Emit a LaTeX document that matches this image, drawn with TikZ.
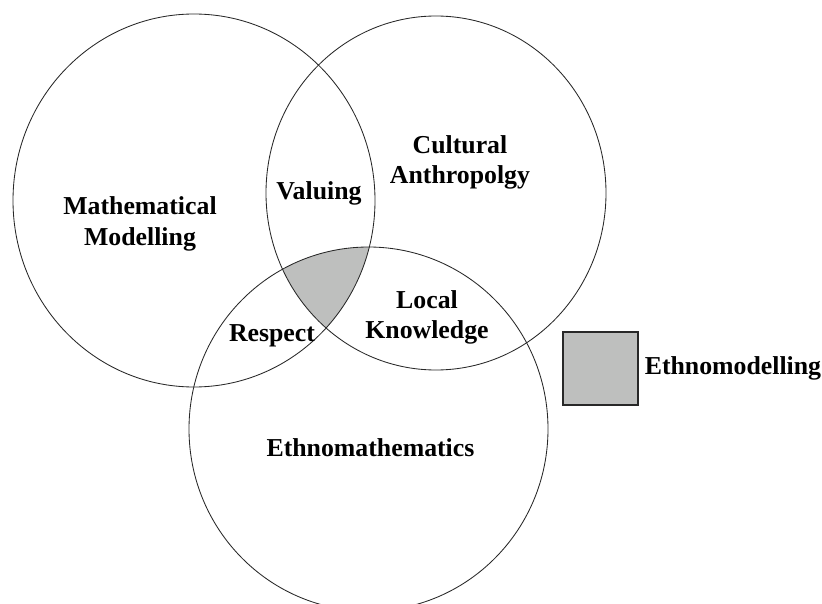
\documentclass[tikz,border=0pt]{standalone}
\usepackage{fontspec}
\setmainfont{Liberation Serif}
\usetikzlibrary{positioning}
\definecolor{ash}{RGB}{190,191,190}
\definecolor{ink}{RGB}{40,40,40}

\begin{document}
\begin{tikzpicture}[x=1pt,y=-1pt,
    ring/.style={draw=ink,line width=0.85pt},
    lbl/.style={font=\fontsize{25.8}{30.5}\selectfont\bfseries,inner sep=0pt,align=center}]
  \useasboundingbox[fill=white] (0,0) rectangle (822,604);
  % centres of the three sets
  \coordinate (mm) at (194,200.5);
  \coordinate (ca) at (436,193);
  \coordinate (em) at (368.5,429);
  % overlap of all three
  \begin{scope}
    \clip (mm) ellipse [x radius=181,y radius=186.5];
    \clip (ca) ellipse [x radius=170,y radius=177];
    \fill[ash] (em) ellipse [x radius=179.5,y radius=182];
  \end{scope}
  \draw[ring] (mm) ellipse [x radius=181,y radius=186.5];
  \draw[ring] (ca) ellipse [x radius=170,y radius=177];
  \draw[ring] (em) ellipse [x radius=179.5,y radius=182];
  % labels
  \node[lbl] (math) at (140,224) {Mathematical\\Modelling};
  \node[lbl] (anth) at (460,162.5) {Cultural\\Anthropolgy};
  \node[lbl,anchor=base] (ethm) at (370.5,456.5) {Ethnomathematics};
  \node[lbl,anchor=base] (valu) at (319,200) {Valuing};
  \node[lbl,anchor=base] (resp) at (272,341) {Respect};
  \node[lbl] (locl) at (427,317.5) {Local\\Knowledge};
  % legend
  \node[draw=ink,line width=1.2pt,fill=ash,minimum width=75pt,minimum height=73pt,inner sep=0pt]
    (swatch) at (600.5,368.5) {};
  \node[lbl,right=6pt of swatch] (key) {Ethnomodelling};
\end{tikzpicture}
\end{document}
